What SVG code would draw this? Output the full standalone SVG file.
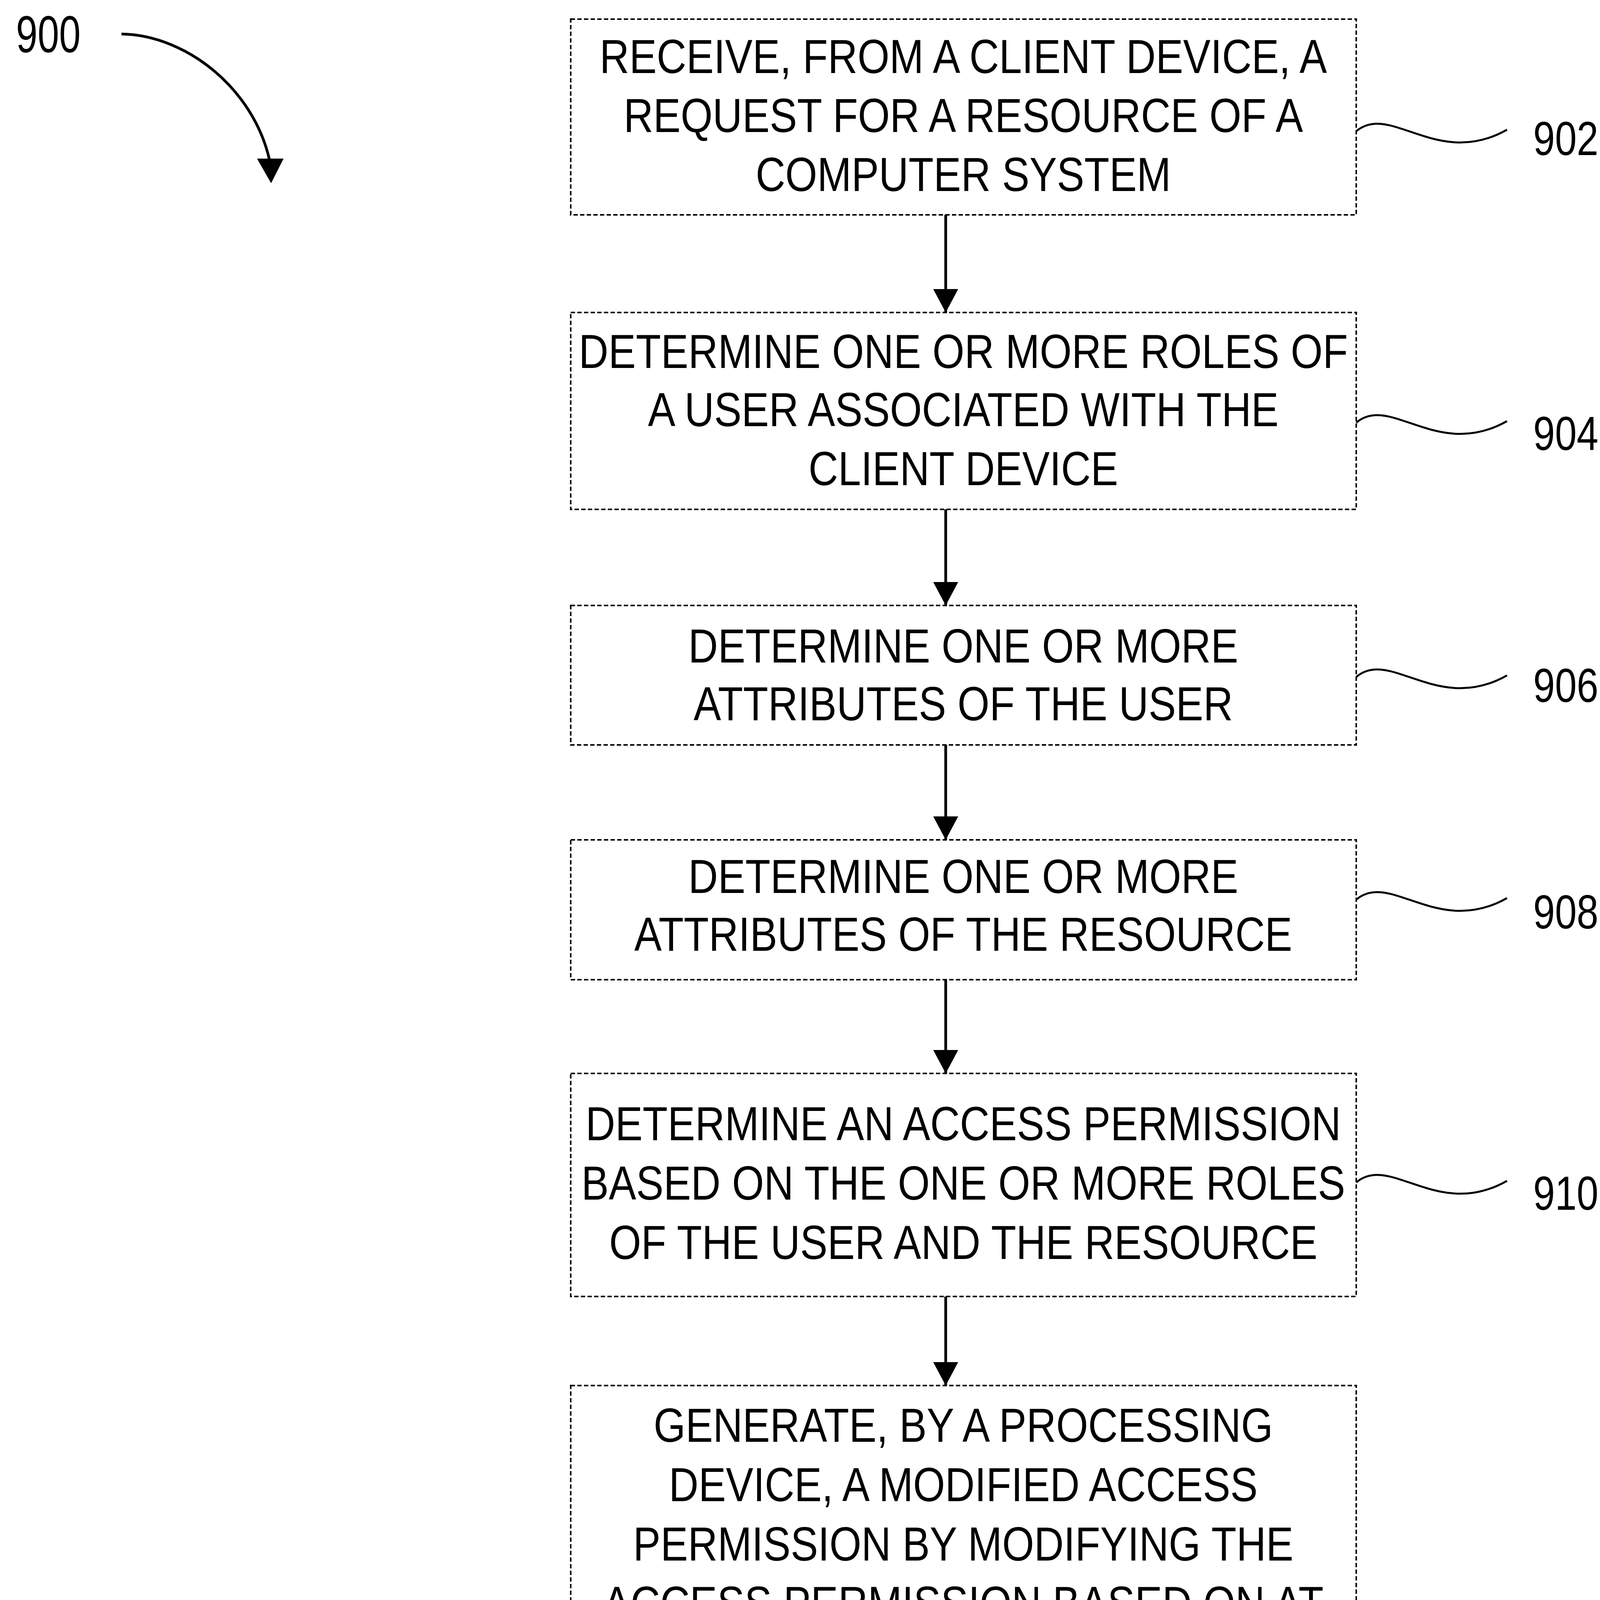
<svg xmlns="http://www.w3.org/2000/svg" width="4136" height="7158" viewBox="0 0 4136 7158">
<style>
.box{fill:#fff;stroke:#000;stroke-width:4;stroke-dasharray:11 6}
.t{font-family:"Liberation Sans",Arial,sans-serif;font-size:122px;fill:#000;text-anchor:middle}
.lbl{font-family:"Liberation Sans",Arial,sans-serif;font-size:122px;fill:#000}
.sq{fill:none;stroke:#000;stroke-width:5}
.ar{fill:none;stroke:#000;stroke-width:7}
</style>
<defs>
<marker id="ah" markerUnits="userSpaceOnUse" viewBox="0 0 60 64" refX="60" refY="32" markerWidth="60" markerHeight="64" orient="auto">
<path d="M0,0 L60,32 L0,64 Z" fill="#000"/>
</marker>
</defs>
<rect width="4136" height="7158" fill="#fff"/>
<g id="ref900">
<text class="lbl" transform="translate(41,134) scale(0.74,1)" x="0" y="0" style="font-size:134px">900</text>
<path class="ar" d="M311,87 C480,90 650,230 690,410"/>
<polygon points="658,406 726,406 694,469" fill="#000"/>
</g>
<g id="connectors">
<line class="ar" x1="2421" y1="550" x2="2421" y2="800" marker-end="url(#ah)"/>
<line class="ar" x1="2421" y1="1304" x2="2421" y2="1550" marker-end="url(#ah)"/>
<line class="ar" x1="2421" y1="1907" x2="2421" y2="2150" marker-end="url(#ah)"/>
<line class="ar" x1="2421" y1="2508" x2="2421" y2="2748" marker-end="url(#ah)"/>
<line class="ar" x1="2421" y1="3319" x2="2421" y2="3547" marker-end="url(#ah)"/>
<line class="ar" x1="2421" y1="4830" x2="2421" y2="5071" marker-end="url(#ah)"/>
<line class="ar" x1="2421" y1="5734" x2="2421" y2="5980" marker-end="url(#ah)"/>
<line class="ar" x1="2421" y1="6455" x2="2421" y2="6696" marker-end="url(#ah)"/>
</g>
<g id="n902">
<rect class="box" x="1461" y="49" width="2011" height="501"/>
<g transform="translate(2466,0) scale(0.862,1)">
<text class="t" x="0" y="187">RECEIVE, FROM A CLIENT DEVICE, A</text>
<text class="t" x="0" y="338">REQUEST FOR A RESOURCE OF A</text>
<text class="t" x="0" y="489">COMPUTER SYSTEM</text>
</g>
<path class="sq" d="M3472,336 c88,-74 208,97 386,-4"/>
<text class="lbl" transform="translate(3925,397) scale(0.82,1)">902</text>
</g>
<g id="n904">
<rect class="box" x="1461" y="800" width="2011" height="504"/>
<g transform="translate(2466,0) scale(0.862,1)">
<text class="t" x="0" y="942">DETERMINE ONE OR MORE ROLES OF</text>
<text class="t" x="0" y="1091">A USER ASSOCIATED WITH THE</text>
<text class="t" x="0" y="1242">CLIENT DEVICE</text>
</g>
<path class="sq" d="M3472,1082 c88,-74 208,97 386,-4"/>
<text class="lbl" transform="translate(3925,1152) scale(0.82,1)">904</text>
</g>
<g id="n906">
<rect class="box" x="1461" y="1550" width="2011" height="357"/>
<g transform="translate(2466,0) scale(0.862,1)">
<text class="t" x="0" y="1696">DETERMINE ONE OR MORE</text>
<text class="t" x="0" y="1844">ATTRIBUTES OF THE USER</text>
</g>
<path class="sq" d="M3472,1733 c88,-74 208,97 386,-4"/>
<text class="lbl" transform="translate(3925,1797) scale(0.82,1)">906</text>
</g>
<g id="n908">
<rect class="box" x="1461" y="2150" width="2011" height="358"/>
<g transform="translate(2466,0) scale(0.862,1)">
<text class="t" x="0" y="2286">DETERMINE ONE OR MORE</text>
<text class="t" x="0" y="2434">ATTRIBUTES OF THE RESOURCE</text>
</g>
<path class="sq" d="M3472,2303 c88,-74 208,97 386,-4"/>
<text class="lbl" transform="translate(3925,2377) scale(0.82,1)">908</text>
</g>
<g id="n910">
<rect class="box" x="1461" y="2748" width="2011" height="571"/>
<g transform="translate(2466,0) scale(0.862,1)">
<text class="t" x="0" y="2919">DETERMINE AN ACCESS PERMISSION</text>
<text class="t" x="0" y="3071">BASED ON THE ONE OR MORE ROLES</text>
<text class="t" x="0" y="3223">OF THE USER AND THE RESOURCE</text>
</g>
<path class="sq" d="M3472,3027 c88,-74 208,97 386,-4"/>
<text class="lbl" transform="translate(3925,3097) scale(0.82,1)">910</text>
</g>
<g id="n912">
<rect class="box" x="1461" y="3547" width="2011" height="1283"/>
<g transform="translate(2466,0) scale(0.862,1)">
<text class="t" x="0" y="3691">GENERATE, BY A PROCESSING</text>
<text class="t" x="0" y="3843">DEVICE, A MODIFIED ACCESS</text>
<text class="t" x="0" y="3995">PERMISSION BY MODIFYING THE</text>
<text class="t" x="0" y="4147">ACCESS PERMISSION BASED ON AT</text>
<text class="t" x="0" y="4299">LEAST ONE OF: THE ONE OR MORE</text>
<text class="t" x="0" y="4451">ATTRIBUTES OF THE USER OR THE</text>
<text class="t" x="0" y="4603">ONE OR MORE ATTRIBUTES OF THE</text>
<text class="t" x="0" y="4755">RESOURCE</text>
</g>
<path class="sq" d="M3472,4179 c88,-74 208,97 386,-4"/>
<text class="lbl" transform="translate(3925,4249) scale(0.82,1)">912</text>
</g>
<g id="n914">
<rect class="box" x="1461" y="5071" width="2011" height="663"/>
<g transform="translate(2466,0) scale(0.862,1)">
<text class="t" x="0" y="5211">PROVIDE OR DENY ACCESS TO THE</text>
<text class="t" x="0" y="5364">RESOURCE OF THE COMPUTER</text>
<text class="t" x="0" y="5518">SYSTEM BASED ON THE MODIFIED</text>
<text class="t" x="0" y="5670">ACCESS PERMISSION</text>
</g>
<path class="sq" d="M3472,5417 c88,-74 208,97 386,-4"/>
<text class="lbl" transform="translate(3925,5486) scale(0.82,1)">914</text>
</g>
<g id="n916">
<rect class="box" x="1461" y="5980" width="2011" height="475"/>
<g transform="translate(2466,0) scale(0.862,1)">
<text class="t" x="0" y="6106">GENERATE AN ACCESS POLICY</text>
<text class="t" x="0" y="6258">COMPRISING THE MODIFIED ACCESS</text>
<text class="t" x="0" y="6408">PERMISSION</text>
</g>
<path class="sq" d="M3472,6205 c88,-74 208,97 386,-4"/>
<text class="lbl" transform="translate(3925,6254) scale(0.82,1)">916</text>
</g>
<g id="n918">
<rect class="box" x="1461" y="6696" width="2011" height="520"/>
<g transform="translate(2466,0) scale(0.862,1)">
<text class="t" x="0" y="6896">PROVIDE THE ACCESS POLICY TO</text>
<text class="t" x="0" y="7048">THE COMPUTER SYSTEM</text>
</g>
<path class="sq" d="M3472,6940 c88,-74 208,97 386,-4"/>
<text class="lbl" transform="translate(3925,7013) scale(0.82,1)">918</text>
</g>
</svg>
